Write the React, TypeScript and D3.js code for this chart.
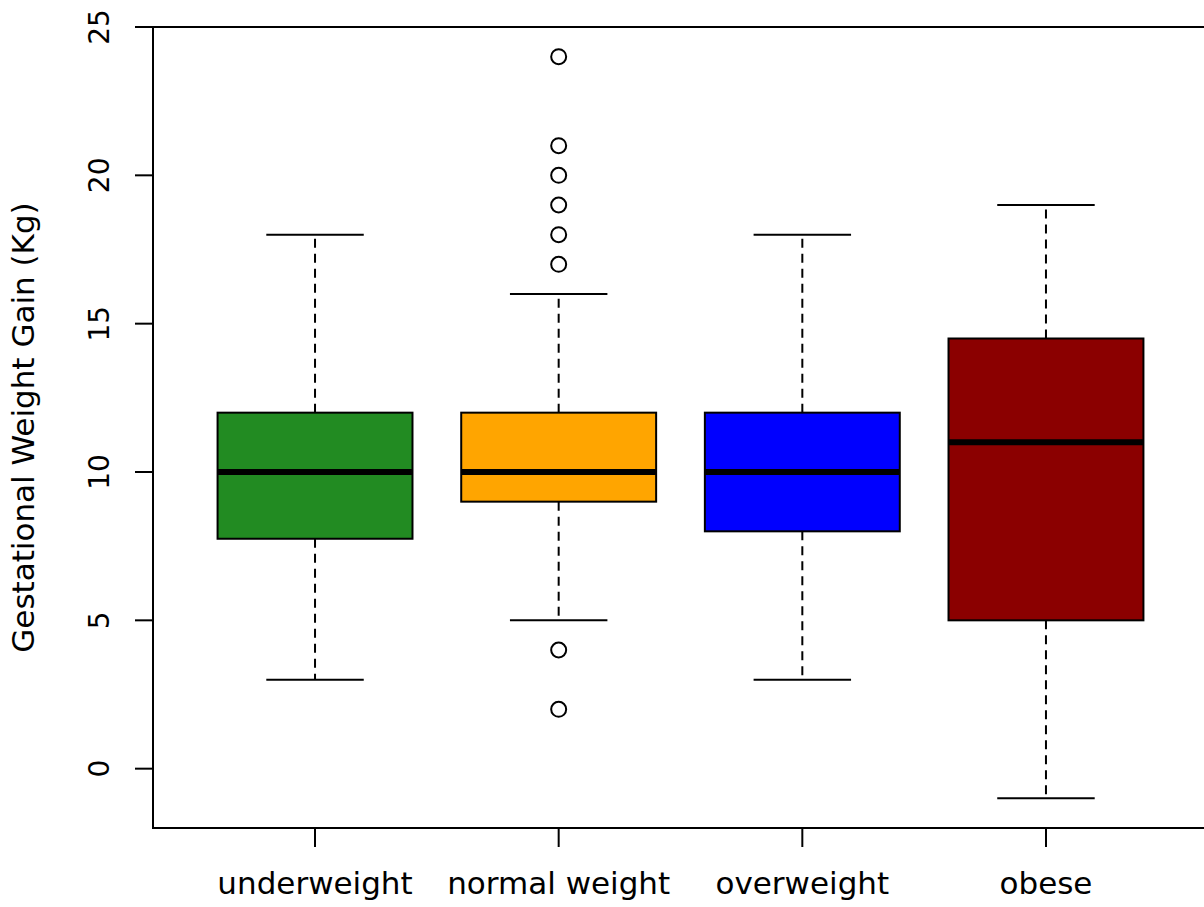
import React from "react";
import * as d3 from "d3";

// groups and their box stats
const groups = ["underweight", "normal weight", "overweight", "obese"];
const lowerWhisker = [3, 5, 3, -1];
const q1 = [7.75, 9, 8, 5];
const medians = [10, 10, 10, 11];
const q3 = [12, 12, 12, 14.5];
const upperWhisker = [18, 16, 18, 19];
const outliers = [[], [24, 21, 20, 19, 18, 17, 4, 2], [], []];
const fills = ["#228B22", "#FFA500", "#0000FF", "#8B0000"];
const yTicks = [0, 5, 10, 15, 20, 25];

const W = 1204;
const H = 907;
const margin = { top: 27, right: -4, bottom: 79, left: 153 };
const font = "'DejaVu Sans', sans-serif";

const App = () => {
  const x = d3
    .scaleLinear()
    .domain([0.335, 4.665])
    .range([margin.left, W - margin.right]);
  const y = d3
    .scaleLinear()
    .domain([-2, 25])
    .range([H - margin.bottom, margin.top]);

  const boxW = (x(2) - x(1)) * 0.8;
  const capW = boxW / 2;
  const plotBottom = H - margin.bottom;

  return (
    <svg
      width={W}
      height={H}
      style={{ position: "absolute", left: 0, top: 0, display: "block" }}
      fontFamily={font}
    >
      <rect x={0} y={0} width={W} height={H} fill="white" />
      {groups.map((g, i) => {
        const cx = x(i + 1);
        return (
          <g key={g}>
            {/* whiskers */}
            <line x1={cx} x2={cx} y1={y(q3[i])} y2={y(upperWhisker[i])} stroke="black" strokeWidth={2} strokeDasharray="9,6" />
            <line x1={cx} x2={cx} y1={y(q1[i])} y2={y(lowerWhisker[i])} stroke="black" strokeWidth={2} strokeDasharray="9,6" />
            <line x1={cx - capW / 2} x2={cx + capW / 2} y1={y(upperWhisker[i])} y2={y(upperWhisker[i])} stroke="black" strokeWidth={2} />
            <line x1={cx - capW / 2} x2={cx + capW / 2} y1={y(lowerWhisker[i])} y2={y(lowerWhisker[i])} stroke="black" strokeWidth={2} />
            {/* box */}
            <rect
              x={cx - boxW / 2}
              y={y(q3[i])}
              width={boxW}
              height={y(q1[i]) - y(q3[i])}
              fill={fills[i]}
              stroke="black"
              strokeWidth={2}
            />
            <line x1={cx - boxW / 2} x2={cx + boxW / 2} y1={y(medians[i])} y2={y(medians[i])} stroke="black" strokeWidth={6} />
            {outliers[i].map((v, j) => (
              <circle key={j} cx={cx} cy={y(v)} r={7.5} fill="none" stroke="black" strokeWidth={2} />
            ))}
          </g>
        );
      })}

      {/* plot frame */}
      <rect
        x={margin.left}
        y={margin.top}
        width={W - margin.right - margin.left}
        height={plotBottom - margin.top}
        fill="none"
        stroke="black"
        strokeWidth={2}
      />

      {/* y axis */}
      {yTicks.map((t) => (
        <g key={t}>
          <line x1={margin.left - 18} x2={margin.left} y1={y(t)} y2={y(t)} stroke="black" strokeWidth={2} />
          <text
            transform={`translate(${margin.left - 44},${y(t)}) rotate(-90)`}
            textAnchor="middle"
            fontSize={28}
            fill="black"
          >
            {t}
          </text>
        </g>
      ))}

      {/* x axis */}
      {groups.map((g, i) => (
        <g key={g}>
          <line x1={x(i + 1)} x2={x(i + 1)} y1={plotBottom} y2={plotBottom + 19} stroke="black" strokeWidth={2} />
          <text x={x(i + 1)} y={plotBottom + 66} textAnchor="middle" fontSize={31} fill="black">
            {g}
          </text>
        </g>
      ))}

      <text
        transform={`translate(34,${(margin.top + plotBottom) / 2}) rotate(-90)`}
        textAnchor="middle"
        fontSize={31}
        fill="black"
      >
        Gestational Weight Gain (Kg)
      </text>
    </svg>
  );
};

export default App;
